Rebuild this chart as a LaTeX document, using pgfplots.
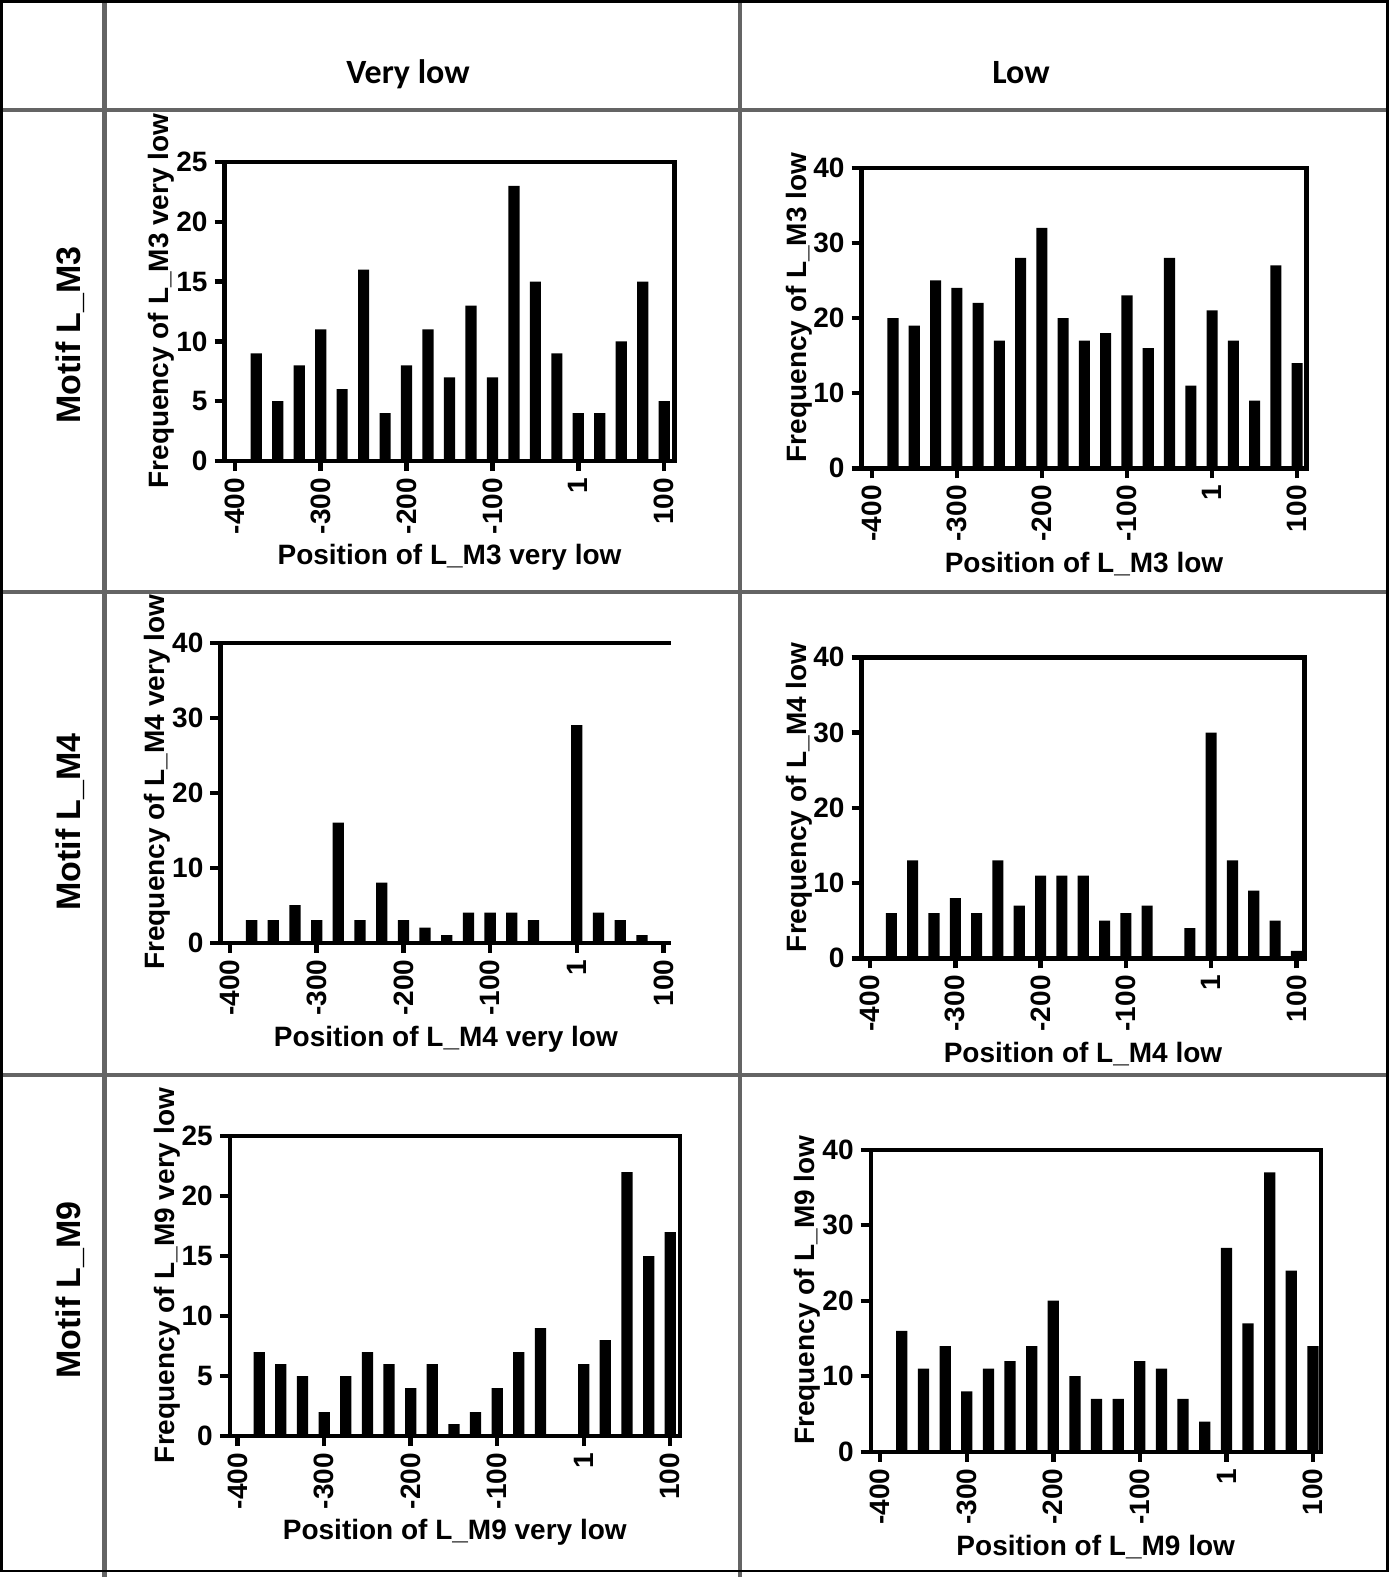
\documentclass[border=0pt]{standalone}
\usepackage{fontspec}
\setmainfont{Liberation Sans}
\newfontfamily\calibri{Carlito}
\usepackage{pgfplots}
\pgfplotsset{compat=1.18}
\definecolor{gridgray}{RGB}{100,100,100}
\newcommand\labfont{\bfseries\fontsize{14}{14.5}\selectfont}
\pgfplotsset{
  panel/.style={
    scale only axis,
    ymin=0,
    axis line style={line width=2.2pt, -},
    every tick/.style={black, line width=2.2pt},
    tick align=outside,
    major tick length=5pt,
    tick pos=left,
    xtick={-400,-300,-200,-100,0,100},
    xticklabels={-400,-300,-200,-100,1,100},
    x tick label style={rotate=90, anchor=east},
    tick label style={font=\labfont},
    /pgf/number format/assume math mode=true,
    every axis y label/.style={at={(axis description cs:-0.14,0.535)}, rotate=90, anchor=center, font=\labfont},
    every axis x label/.style={at={(axis description cs:0.5,-0.345)}, anchor=base, font=\labfont},
    ybar, bar width=13,
    enlargelimits=false,
  },
  bars/.style={fill=black, draw=none},
}
\begin{document}
\begin{tikzpicture}
\useasboundingbox (0,0) rectangle (696pt,-789.5pt);
% ---------- Top left: L_M3 very low
\begin{axis}[panel, at={(112.25pt,-230.5pt)}, anchor=south west,
  width=225pt, height=149.5pt, xmin=-412, xmax=112, ymax=25, ytick={0,5,...,25},
  xlabel={Position of L\_M3 very low}, ylabel={Frequency of L\_M3 very low}]
\addplot[bars] coordinates {(-375,9) (-350,5) (-325,8) (-300,11) (-275,6) (-250,16) (-225,4) (-200,8) (-175,11) (-150,7) (-125,13) (-100,7) (-75,23) (-50,15) (-25,9) (0,4) (25,4) (50,10) (75,15) (100,5)};
\end{axis}
% ---------- Top right: L_M3 low
\begin{axis}[panel, at={(430.75pt,-234.15pt)}, anchor=south west,
  width=222.5pt, height=150.3pt, xmin=-412, xmax=111, ymax=40, ytick={0,10,...,40},
  xlabel={Position of L\_M3 low}, ylabel={Frequency of L\_M3 low}]
\addplot[bars] coordinates {(-375,20) (-350,19) (-325,25) (-300,24) (-275,22) (-250,17) (-225,28) (-200,32) (-175,20) (-150,17) (-125,18) (-100,23) (-75,16) (-50,28) (-25,11) (0,21) (25,17) (50,9) (75,27) (100,14)};
\end{axis}
% ---------- Middle left: L_M4 very low
\begin{axis}[panel, at={(110.2pt,-471.35pt)}, anchor=south west,
  axis x line*=box, axis y line*=left,
  width=225.5pt, height=150pt, xmin=-411, xmax=109, ymax=40, ytick={0,10,...,40},
  xlabel={Position of L\_M4 very low}, ylabel={Frequency of L\_M4 very low}]
\addplot[bars] coordinates {(-375,3) (-350,3) (-325,5) (-300,3) (-275,16) (-250,3) (-225,8) (-200,3) (-175,2) (-150,1) (-125,4) (-100,4) (-75,4) (-50,3) (-25,0) (0,29) (25,4) (50,3) (75,1) (100,0)};
\end{axis}
% ---------- Middle right: L_M4 low
\begin{axis}[panel, at={(430.75pt,-479.15pt)}, anchor=south west,
  width=221.5pt, height=150.5pt, xmin=-410, xmax=109.5, ymax=40, ytick={0,10,...,40},
  xlabel={Position of L\_M4 low}, ylabel={Frequency of L\_M4 low}]
\addplot[bars] coordinates {(-375,6) (-350,13) (-325,6) (-300,8) (-275,6) (-250,13) (-225,7) (-200,11) (-175,11) (-150,11) (-125,5) (-100,6) (-75,7) (-50,0) (-25,4) (0,30) (25,13) (50,9) (75,5) (100,1)};
\end{axis}
% ---------- Bottom left: L_M9 very low
\begin{axis}[panel, at={(114.9pt,-718pt)}, anchor=south west,
  width=225pt, height=150pt, xmin=-409, xmax=111, ymax=25, ytick={0,5,...,25},
  xlabel={Position of L\_M9 very low}, ylabel={Frequency of L\_M9 very low}]
\addplot[bars] coordinates {(-375,7) (-350,6) (-325,5) (-300,2) (-275,5) (-250,7) (-225,6) (-200,4) (-175,6) (-150,1) (-125,2) (-100,4) (-75,7) (-50,9) (-25,0) (0,6) (25,8) (50,22) (75,15) (100,17)};
\end{axis}
% ---------- Bottom right: L_M9 low
\begin{axis}[panel, at={(435.35pt,-725.85pt)}, anchor=south west,
  width=225pt, height=151pt, xmin=-411, xmax=109, ymax=40, ytick={0,10,...,40},
  xlabel={Position of L\_M9 low}, ylabel={Frequency of L\_M9 low}]
\addplot[bars] coordinates {(-375,16) (-350,11) (-325,14) (-300,8) (-275,11) (-250,12) (-225,14) (-200,20) (-175,10) (-150,7) (-125,7) (-100,12) (-75,11) (-50,7) (-25,4) (0,27) (25,17) (50,37) (75,24) (100,14)};
\end{axis}
% ---------- table grid
\draw[gridgray, line width=2.35pt] (52.4pt,0) -- (52.4pt,-788.5pt);
\draw[gridgray, line width=2.35pt] (370pt,0) -- (370pt,-788.5pt);
\draw[gridgray, line width=2.35pt] (0,-55pt) -- (694.5pt,-55pt);
\draw[gridgray, line width=2.35pt] (0,-296pt) -- (694.5pt,-296pt);
\draw[gridgray, line width=2.35pt] (0,-537.5pt) -- (694.5pt,-537.5pt);
\draw[black, line width=1.3pt] (0.8pt,-0.8pt) rectangle (693.8pt,-785.5pt);
% ---------- headers
\node[font=\calibri\bfseries\fontsize{17}{17}\selectfont, anchor=base] at (204pt,-41.5pt) {Very low};
\node[font=\calibri\bfseries\fontsize{17}{17}\selectfont, anchor=base] at (510.5pt,-41.5pt) {Low};
\node[font=\bfseries\fontsize{17}{17}\selectfont, rotate=90, anchor=base] at (40pt,-167.5pt) {Motif L\_M3};
\node[font=\bfseries\fontsize{17}{17}\selectfont, rotate=90, anchor=base] at (40pt,-411pt) {Motif L\_M4};
\node[font=\bfseries\fontsize{17}{17}\selectfont, rotate=90, anchor=base] at (40pt,-645pt) {Motif L\_M9};
\end{tikzpicture}
\end{document}
